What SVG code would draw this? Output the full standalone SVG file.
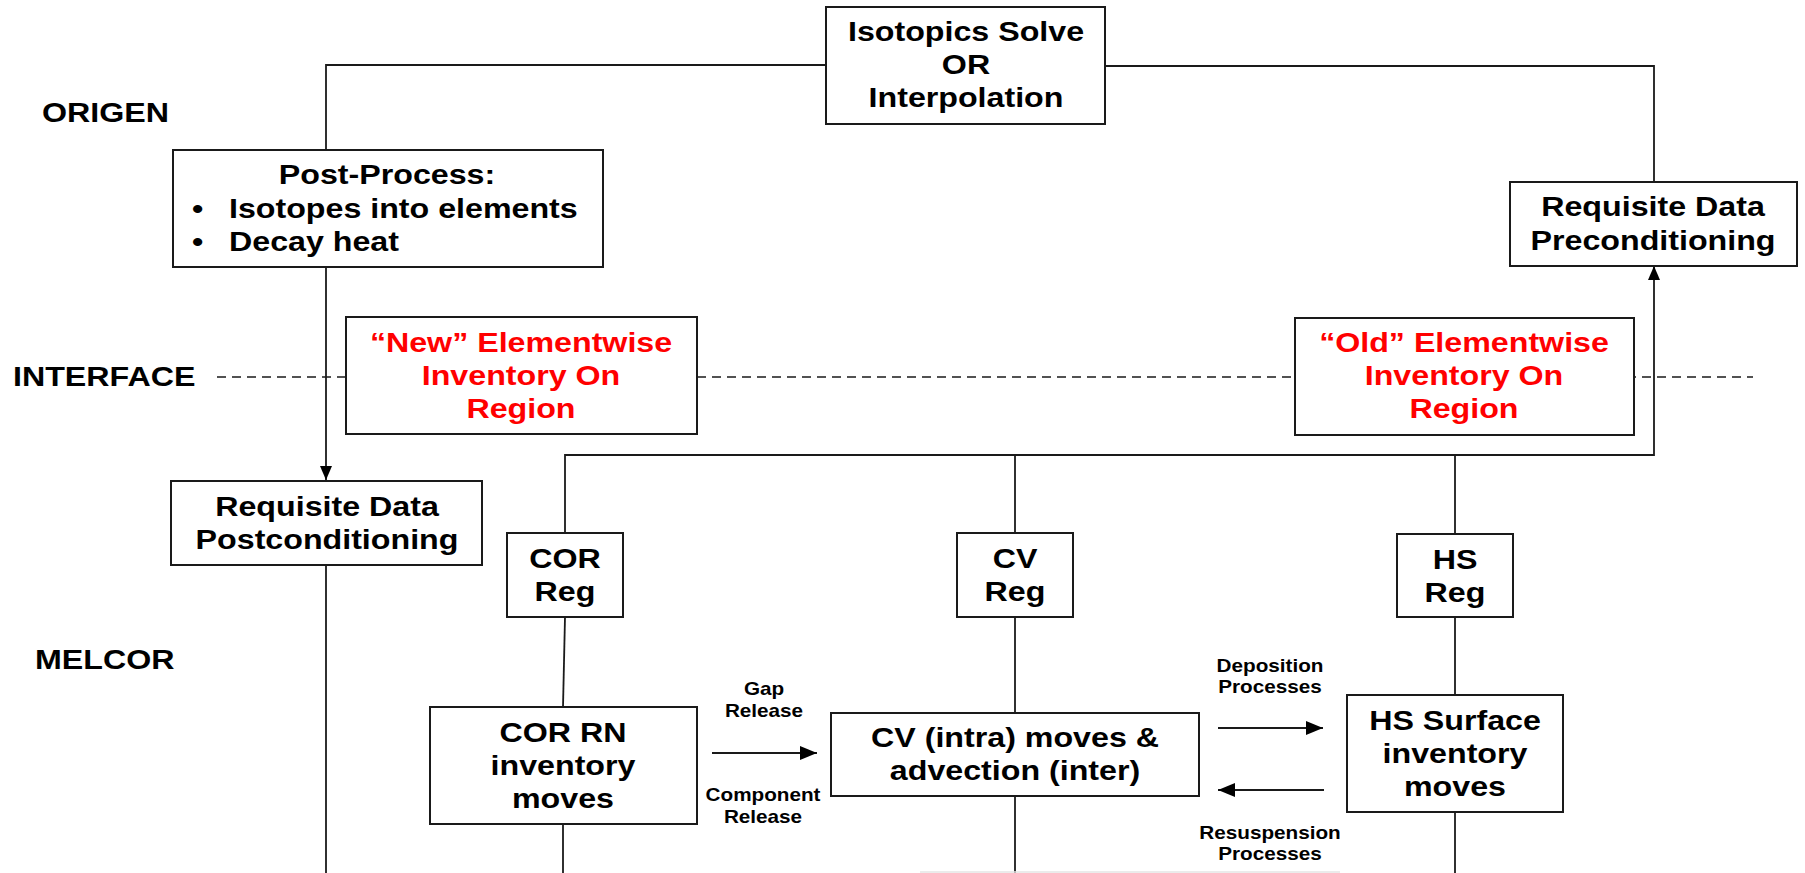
<svg xmlns="http://www.w3.org/2000/svg" width="1805" height="873" viewBox="0 0 1805 873">
<defs>
<style>
.bg{fill:#ffffff}
.box{fill:#ffffff;stroke:#1a1a1a;stroke-width:2}
.ln{fill:none;stroke:#1a1a1a;stroke-width:1.8}
.dash{fill:none;stroke:#1a1a1a;stroke-width:1.7;stroke-dasharray:9 6}
.t{font-family:"Liberation Sans",Arial,sans-serif;font-weight:bold;font-size:28px;fill:#000000}
.s{font-family:"Liberation Sans",Arial,sans-serif;font-weight:bold;font-size:18px;fill:#000000}
.red{fill:#ff0000}
.c{text-anchor:middle}
</style>
<marker id="ah" viewBox="0 0 14 12" refX="14" refY="6" markerWidth="14" markerHeight="12" markerUnits="userSpaceOnUse" orient="auto">
<path d="M0,0 L14,6 L0,12 z" fill="#000000"/>
</marker>
<marker id="ah2" viewBox="0 0 17 14" refX="17" refY="7" markerWidth="17" markerHeight="14" markerUnits="userSpaceOnUse" orient="auto">
<path d="M0,0 L17,7 L0,14 z" fill="#000000"/>
</marker>
</defs>
<rect class="bg" x="0" y="0" width="1805" height="873"/>

<g id="lane-labels">
<text class="t" transform="translate(42,122) scale(1.15,1)">ORIGEN</text>
<text class="t" transform="translate(13,386) scale(1.15,1)">INTERFACE</text>
<text class="t" transform="translate(35,669) scale(1.15,1)">MELCOR</text>
</g>

<g id="connectors">
<path class="dash" d="M217,377 H1753"/>
<path class="ln" d="M326,150 V65 H826"/>
<path class="ln" d="M1105,66 H1654 V182"/>
<path class="ln" d="M326,267 V480" marker-end="url(#ah)"/>
<path class="ln" d="M326,565 V873"/>
<path class="ln" d="M565,533 V455 H1654 V266" marker-end="url(#ah)"/>
<path class="ln" d="M1015,455 V533"/>
<path class="ln" d="M1455,455 V534"/>
<path class="ln" d="M565,617 L563,707"/>
<path class="ln" d="M563,824 V873"/>
<path class="ln" d="M1015,617 V713"/>
<path class="ln" d="M1015,796 V873"/>
<path class="ln" d="M1455,617 V695"/>
<path class="ln" d="M1455,812 V873"/>
<path class="ln" d="M712,753 H817" marker-end="url(#ah2)"/>
<path class="ln" d="M1218,728 H1323" marker-end="url(#ah2)"/>
<path class="ln" d="M1324,790 H1218" marker-end="url(#ah2)"/>
<path d="M920,872 H1340" fill="none" stroke="#e4e4e4" stroke-width="1.5"/>
</g>

<g id="edge-labels">
<text class="s c" transform="translate(764,695) scale(1.15,1)"><tspan x="0" y="0">Gap</tspan><tspan x="0" y="22">Release</tspan></text>
<text class="s c" transform="translate(763,801) scale(1.15,1)"><tspan x="0" y="0">Component</tspan><tspan x="0" y="22">Release</tspan></text>
<text class="s c" transform="translate(1270,672) scale(1.15,1)"><tspan x="0" y="0">Deposition</tspan><tspan x="0" y="21">Processes</tspan></text>
<text class="s c" transform="translate(1270,839) scale(1.15,1)"><tspan x="0" y="0">Resuspension</tspan><tspan x="0" y="21">Processes</tspan></text>
</g>

<g id="isotopics">
<rect class="box" x="826" y="7" width="279" height="117"/>
<text class="t c" transform="translate(966,41) scale(1.15,1)"><tspan x="0" y="0">Isotopics Solve</tspan><tspan x="0" y="33">OR</tspan><tspan x="0" y="66">Interpolation</tspan></text>
</g>

<g id="post-process">
<rect class="box" x="173" y="150" width="430" height="117"/>
<text class="t c" transform="translate(387,184) scale(1.15,1)">Post-Process:</text>
<text class="t" transform="translate(192,218) scale(1.15,1)">•</text>
<text class="t" transform="translate(229,218) scale(1.15,1)">Isotopes into elements</text>
<text class="t" transform="translate(192,251) scale(1.15,1)">•</text>
<text class="t" transform="translate(229,251) scale(1.15,1)">Decay heat</text>
</g>

<g id="req-pre">
<rect class="box" x="1510" y="182" width="287" height="84"/>
<text class="t c" transform="translate(1653,216) scale(1.15,1)"><tspan x="0" y="0">Requisite Data</tspan><tspan x="0" y="34">Preconditioning</tspan></text>
</g>

<g id="new-inventory">
<rect class="box" x="346" y="317" width="351" height="117"/>
<text class="t c red" transform="translate(521,352) scale(1.15,1)"><tspan x="0" y="0">“New” Elementwise</tspan><tspan x="0" y="33">Inventory On</tspan><tspan x="0" y="66">Region</tspan></text>
</g>

<g id="old-inventory">
<rect class="box" x="1295" y="318" width="339" height="117"/>
<text class="t c red" transform="translate(1464,352) scale(1.15,1)"><tspan x="0" y="0">“Old” Elementwise</tspan><tspan x="0" y="33">Inventory On</tspan><tspan x="0" y="66">Region</tspan></text>
</g>

<g id="req-post">
<rect class="box" x="171" y="481" width="311" height="84"/>
<text class="t c" transform="translate(327,516) scale(1.15,1)"><tspan x="0" y="0">Requisite Data</tspan><tspan x="0" y="33">Postconditioning</tspan></text>
</g>

<g id="cor-reg">
<rect class="box" x="507" y="533" width="116" height="84"/>
<text class="t c" transform="translate(565,568) scale(1.15,1)"><tspan x="0" y="0">COR</tspan><tspan x="0" y="33">Reg</tspan></text>
</g>

<g id="cv-reg">
<rect class="box" x="957" y="533" width="116" height="84"/>
<text class="t c" transform="translate(1015,568) scale(1.15,1)"><tspan x="0" y="0">CV</tspan><tspan x="0" y="33">Reg</tspan></text>
</g>

<g id="hs-reg">
<rect class="box" x="1397" y="534" width="116" height="83"/>
<text class="t c" transform="translate(1455,569) scale(1.15,1)"><tspan x="0" y="0">HS</tspan><tspan x="0" y="33">Reg</tspan></text>
</g>

<g id="cor-rn">
<rect class="box" x="430" y="707" width="267" height="117"/>
<text class="t c" transform="translate(563,742) scale(1.15,1)"><tspan x="0" y="0">COR RN</tspan><tspan x="0" y="33">inventory</tspan><tspan x="0" y="66">moves</tspan></text>
</g>

<g id="cv-moves">
<rect class="box" x="831" y="713" width="368" height="83"/>
<text class="t c" transform="translate(1015,747) scale(1.15,1)"><tspan x="0" y="0">CV (intra) moves &amp;</tspan><tspan x="0" y="33">advection (inter)</tspan></text>
</g>

<g id="hs-surface">
<rect class="box" x="1347" y="695" width="216" height="117"/>
<text class="t c" transform="translate(1455,730) scale(1.15,1)"><tspan x="0" y="0">HS Surface</tspan><tspan x="0" y="33">inventory</tspan><tspan x="0" y="66">moves</tspan></text>
</g>
</svg>
